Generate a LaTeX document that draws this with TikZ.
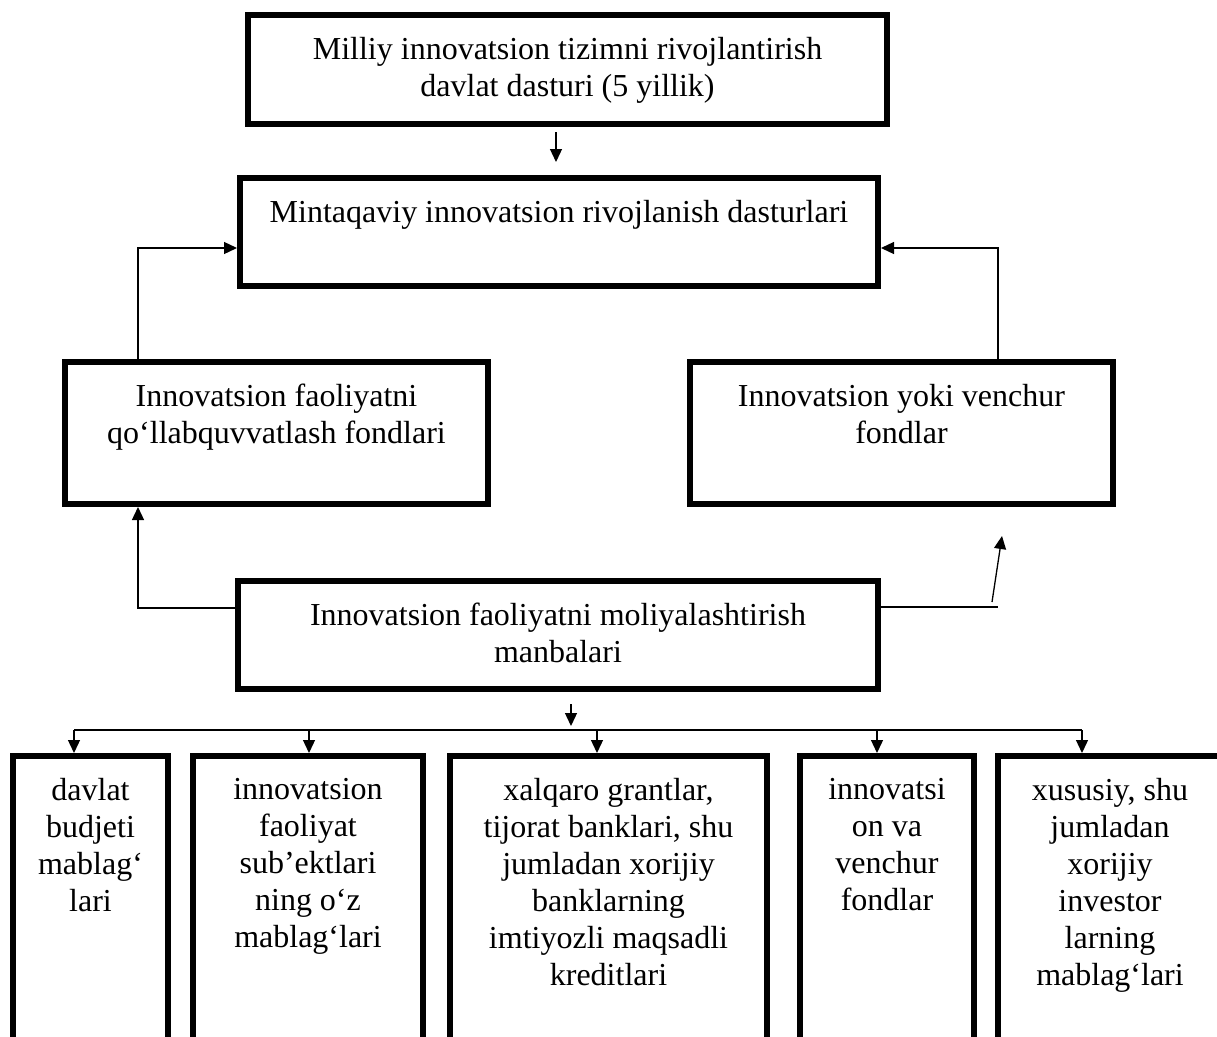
\documentclass[tikz,border=0pt]{standalone}
\usepackage{fontspec}
\setmainfont{Liberation Serif}
\usetikzlibrary{arrows.meta}
\newcommand{\boxtxt}[3]{\parbox[c][#2pt][t]{#1pt}{\centering\vspace*{22pt}#3}}
\tikzset{
  box/.style={draw, line width=6pt, inner sep=0pt, font=\fontsize{32}{37}\selectfont},
  arr/.style={-{Triangle[length=13pt,width=12pt]}, line width=1.3pt},
  link/.style={line width=1.3pt}
}
\begin{document}
\begin{tikzpicture}[x=1pt,y=-1pt]
      \clip (0,0) rectangle (1217,1036);
      \fill[white] (0,0) rectangle (1217,1036);
      \draw
        (567.5,69.5) node[box] (top){\boxtxt{639}{109}{Milliy innovatsion tizimni rivojlantirish\\davlat dasturi (5 yillik)}}
        (559,232) node[box] (mint){\boxtxt{638}{108}{Mintaqaviy innovatsion rivojlanish dasturlari}}
        (276.5,433) node[box] (fond){\boxtxt{423}{142}{Innovatsion faoliyatni\\qo‘llabquvvatlash fondlari}}
        (901.5,433) node[box] (venc){\boxtxt{423}{142}{Innovatsion yoki venchur\\fondlar}}
        (558,635) node[box] (manb){\boxtxt{640}{108}{Innovatsion faoliyatni moliyalashtirish\\manbalari}}
        (90.5,906.5) node[box] (bA){\boxtxt{155}{301}{davlat\\budjeti\\mablag‘\\lari}}
        (308,906.5) node[box] (bB){\boxtxt{230}{301}{innovatsion\\faoliyat\\sub’ektlari\\ning o‘z\\mablag‘lari}}
        (608.5,906.5) node[box] (bC){\boxtxt{317}{301}{xalqaro grantlar,\\tijorat banklari, shu\\jumladan xorijiy\\banklarning\\imtiyozli maqsadli\\kreditlari}}
        (887,906.5) node[box] (bD){\boxtxt{174}{301}{innovatsi\\on va\\venchur\\fondlar}}
        (1110,906.5) node[box] (bE){\boxtxt{224}{301}{xususiy, shu\\jumladan\\xorijiy\\investor\\larning\\mablag‘lari}};
      \coordinate (lx) at (138,248);
      \coordinate (rx) at (998,248);
      \coordinate (lb) at (138,608);
      \coordinate (rb) at (998,607);
      \coordinate (st) at (992,602);
      \coordinate (sh) at (1002,536);
      % upper part
      \draw[arr] ([xshift=-11.5pt,yshift=-5pt]top.south) -- ++(0,30);
      \draw[arr] (fond.north -| lx) |- (mint.west |- lx);
      \draw[arr] (venc.north -| rx) |- (mint.east |- rx);
      \draw[arr] (manb.west |- lb) -| (fond.south -| lb);
      \draw[link] (manb.east |- rb) -- (rb);
      \draw[arr] (st) -- (sh);
      % lower part
      \draw[arr] ([xshift=13pt,yshift=-12pt]manb.south) -- ++(0,22);
      \draw[link] ([xshift=-16.5pt,yshift=23pt]bA.north) -- ([xshift=-28pt,yshift=23pt]bE.north);
      \foreach \b/\s in {bA/-16.5,bB/1,bC/-11.5,bD/-10,bE/-28}
        \draw[arr] ([xshift=\s pt]\b.north) ++(0,-23) -- ++(0,23);
    \end{tikzpicture}
\end{document}
